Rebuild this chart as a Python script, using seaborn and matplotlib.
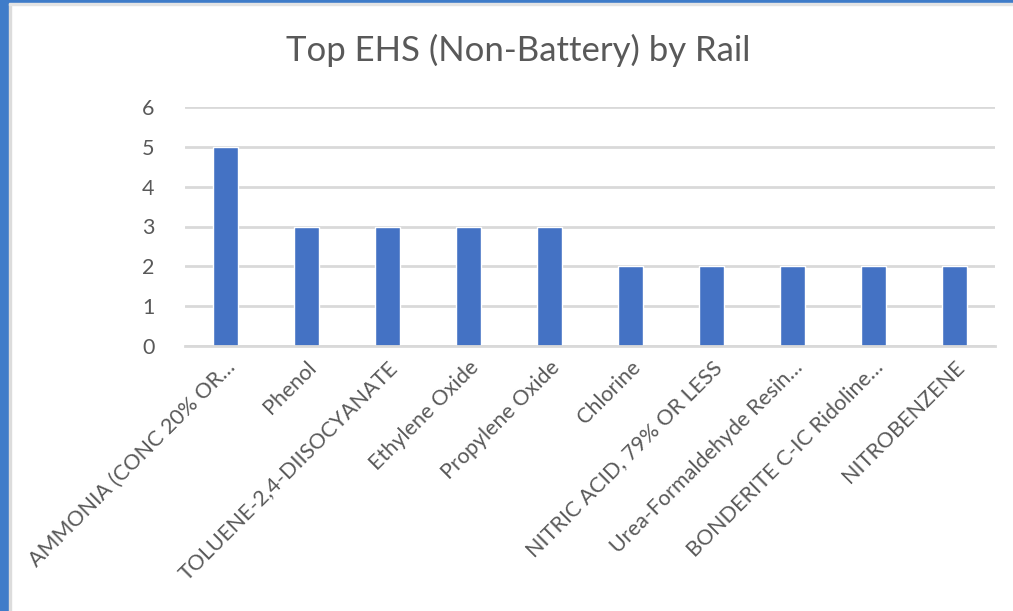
import matplotlib
matplotlib.use("Agg")
import matplotlib.pyplot as plt
from matplotlib.patches import Rectangle
import pandas as pd
import seaborn as sns

# chart data
chemicals = ["AMMONIA (CONC 20% OR…", "Phenol", "TOLUENE-2,4-DIISOCYANATE",
             "Ethylene Oxide", "Propylene Oxide", "Chlorine",
             "NITRIC ACID, 79% OR LESS", "Urea-Formaldehyde Resin…",
             "BONDERITE C-IC Ridoline…", "NITROBENZENE"]
counts = [5, 3, 3, 3, 3, 2, 2, 2, 2, 2]
y_ticks = [0, 1, 2, 3, 4, 5, 6]

df = pd.DataFrame({"chemical": chemicals, "count": counts})

sns.set_style("white")
plt.rcParams['font.family'] = ['Lato', 'DejaVu Sans']

fig = plt.figure(figsize=(10.13, 6.11), dpi=100)
# window frame (blue edge on left and top)
fig.patches.append(Rectangle((0, 0), 9 / 1013, 1, transform=fig.transFigure,
                             color='#3f7cc9', zorder=0))
fig.patches.append(Rectangle((9 / 1013, 0), 2 / 1013, 1, transform=fig.transFigure,
                             color='#dcdcdc', zorder=0))
fig.patches.append(Rectangle((0, 1 - 3 / 611), 1, 3 / 611, transform=fig.transFigure,
                             color='#3f7cc9', zorder=0))
fig.patches.append(Rectangle((9 / 1013, 1 - 5 / 611), 1, 2 / 611, transform=fig.transFigure,
                             color='#e4e4e4', zorder=0))

ax = fig.add_axes([185 / 1013, 1 - 346 / 611, 810 / 1013, 239 / 611])
sns.barplot(data=df, x="chemical", y="count", color='#4472C4', width=0.31,
            saturation=1, ax=ax, zorder=3)

ax.set_ylim(0, 6)
ax.set_xlim(-0.5, len(chemicals) - 0.5)
ax.set_yticks(y_ticks)
ax.yaxis.grid(True, color='#d9d9d9', linewidth=2)
ax.set_axisbelow(True)
for s in ['top', 'right', 'left']:
    ax.spines[s].set_visible(False)
ax.spines['bottom'].set_color('#d9d9d9')
ax.spines['bottom'].set_linewidth(2)
ax.spines['bottom'].set_zorder(4)
ax.set_xlabel("")
ax.set_ylabel("")
ax.tick_params(axis='both', length=0, labelsize=15.5, labelcolor='#595959')
ax.tick_params(axis='y', pad=22)
ax.tick_params(axis='x', pad=8)
plt.setp(ax.get_xticklabels(), rotation=45, ha='right', rotation_mode='anchor')

fig.text(518 / 1013, 1 - 50 / 611, "Top EHS (Non-Battery) by Rail",
         ha='center', va='center', fontsize=25, color='#595959')

fig.savefig("out.png", dpi=100)
